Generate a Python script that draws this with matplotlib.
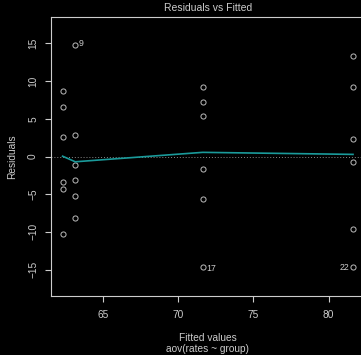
import matplotlib
matplotlib.use('Agg')
import matplotlib.pyplot as plt

# fitted value for each group and residuals
fitted = [62.34, 63.18, 71.64, 81.62]
res_g1 = [8.66, 6.63, 2.65, -3.36, -4.33, -10.34]
res_g2 = [14.85, 2.83, -1.19, -3.18, -5.21, -8.18]
res_g3 = [9.28, 7.29, 5.31, -1.68, -5.70, -14.68]
res_g4 = [13.30, 9.28, 2.30, -0.71, -9.68, -14.68]
smooth = [0.04, -0.70, 0.55, 0.28]

labels = ['9', '17', '22']
label_pts = [(63.18, 14.85), (71.64, -14.68), (81.62, -14.68)]

fg = '#cccccc'
plt.rcParams['font.family'] = ['Liberation Sans', 'DejaVu Sans']
plt.rcParams['font.size'] = 7.3

fig = plt.figure(figsize=(3.61, 3.55), dpi=100, facecolor='black')
ax = fig.add_axes([51/361, (355-296)/355, (364.6-51)/361, (296-17)/355])
ax.set_facecolor('black')

groups = [res_g1, res_g2, res_g3, res_g4]
for f, g in zip(fitted, groups):
    ax.plot([f]*len(g), g, 'o', mfc='none', mec='#bbbbbb', ms=3.7, mew=0.7, ls='none')

ax.axhline(0, color='#888888', lw=0.7, ls=(0, (1, 2)))
ax.plot(fitted, smooth, color='#1a9a9a', lw=1.2)

for lab, (px, py) in zip(labels, label_pts):
    if lab == '22':
        ax.annotate(lab, (px, py), xytext=(-2.5, -0.5), textcoords='offset points',
                    ha='right', va='center', color=fg, fontsize=6.3)
    elif lab == '9':
        ax.annotate(lab, (px, py), xytext=(2.5, 0.8), textcoords='offset points',
                    ha='left', va='center', color=fg, fontsize=6.3)
    else:
        ax.annotate(lab, (px, py), xytext=(2.5, -1), textcoords='offset points',
                    ha='left', va='center', color=fg, fontsize=6.3)

ax.set_xlim(61.57, 82.39)
ax.set_ylim(-18.5, 18.5)
ax.set_xticks([65, 70, 75, 80])
ax.set_yticks([-15, -10, -5, 0, 5, 10, 15])
for lbl in ax.get_yticklabels():
    lbl.set_rotation(90)
    lbl.set_va('center')

for s in ax.spines.values():
    s.set_color(fg)
    s.set_linewidth(0.8)
ax.tick_params(colors=fg, length=4.3, width=0.8, pad=6)
ax.tick_params(axis='y', pad=5)

ax.set_title('Residuals vs Fitted', color=fg, fontsize=7.5, pad=4)
ax.set_xlabel('Fitted values\naov(rates ~ group)', color=fg, labelpad=9, linespacing=1.15)
ax.set_ylabel('Residuals', color=fg, labelpad=8)

fig.savefig('out.png', dpi=100, facecolor='black')
